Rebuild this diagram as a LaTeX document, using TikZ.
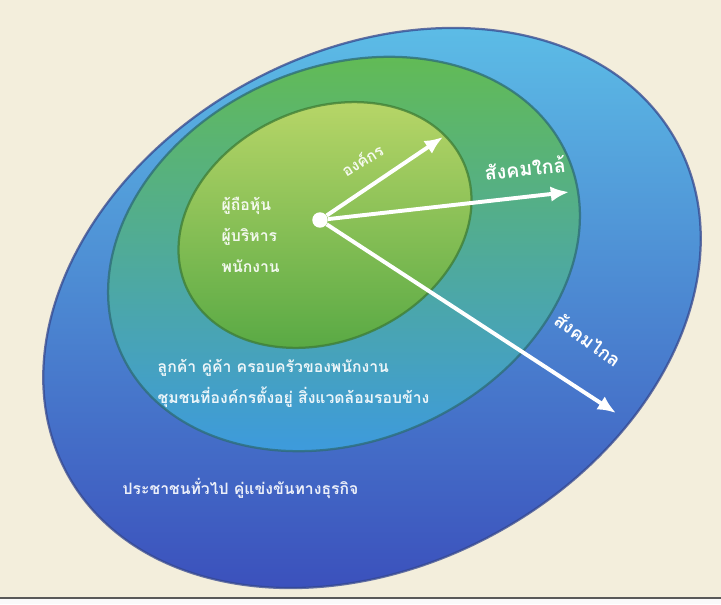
\documentclass[tikz,border=0pt]{standalone}
\usepackage{fontspec}
\newfontfamily\thaifont[Script=Thai]{Loma}
\usetikzlibrary{arrows.meta}
\definecolor{paper}{HTML}{F3EEDC}
\definecolor{outertop}{HTML}{5CBCE6}
\definecolor{outermid}{HTML}{427CD0}
\definecolor{outerbot}{HTML}{3B50BC}
\definecolor{midtop}{HTML}{62BB55}
\definecolor{midmid}{HTML}{3AAA9E}
\definecolor{midbot}{HTML}{3D9ADE}
\definecolor{innertop}{HTML}{B8D668}
\definecolor{innerbot}{HTML}{58A944}
\definecolor{outerrim}{HTML}{34478E}
\definecolor{midrim}{HTML}{2D6C74}
\definecolor{innerrim}{HTML}{3E7C34}
\begin{document}
\begin{tikzpicture}[
    x=0.025cm, y=-0.025cm,
    rim/.style={line width=1.6pt, opacity=0.75},
    every node/.style={text=white, inner sep=1pt},
    caption/.style={font=\thaifont\bfseries\fontsize{11.2}{22}\selectfont, align=left, text opacity=0.9},
    zone/.style={font=\thaifont\bfseries\fontsize{14}{16}\selectfont},
    ray/.style={draw=white, line width=2.8pt, -{Latex[length=13pt,width=11pt]}}
]
\useasboundingbox (0,0) rectangle (721,604);
\fill[paper] (0,0) rectangle (721,604);
\fill[white!96!gray] (0,599) rectangle (721,604);
\draw[gray!70!black, line width=0.9pt] (0,598) -- (721,598);

\begin{scope}
    \clip[rotate around={28.5:(372,308)}] (372,308) ellipse [x radius=347, y radius=257];
    \shade[top color=outertop, middle color=outermid, bottom color=outerbot] (20,28) rectangle (710,592);
\end{scope}
\draw[rim, outerrim, rotate around={28.5:(372,308)}] (372,308) ellipse [x radius=347, y radius=257];

\begin{scope}
    \clip[rotate around={23.5:(344,254)}] (344,254) ellipse [x radius=244, y radius=187];
    \shade[top color=midtop, middle color=midmid, bottom color=midbot] (100,55) rectangle (590,455);
\end{scope}
\draw[rim, midrim, rotate around={23.5:(344,254)}] (344,254) ellipse [x radius=244, y radius=187];

\begin{scope}
    \clip[rotate around={24.4:(325,225)}] (325,225) ellipse [x radius=152, y radius=116];
    \shade[top color=innertop, bottom color=innerbot] (170,98) rectangle (480,352);
\end{scope}
\draw[rim, innerrim, rotate around={24.4:(325,225)}] (325,225) ellipse [x radius=152, y radius=116];

\node[circle, fill=white, minimum size=11pt, inner sep=0pt] (hub) at (320,220) {};
\coordinate (orgtip) at (443,137);
\coordinate (neartip) at (569,192);
\coordinate (fartip) at (616,413);
\draw[ray] (hub) -- (orgtip);
\draw[ray] (hub) -- (neartip);
\draw[ray] (hub) -- (fartip);

\node[caption, anchor=west] (staff) at (220,235) {ผู้ถือหุ้น\\ผู้บริหาร\\พนักงาน};
\node[caption, rotate=32] (org) at (362,160) {องค์กร};
\node[zone, rotate=6] (near) at (525,168) {สังคมใกล้};
\node[zone, font=\thaifont\bfseries\fontsize{13}{15}\selectfont, rotate=-36] (far) at (588,340) {สังคมไกล};
\node[caption, anchor=west] (partners) at (156,383) {ลูกค้า คู่ค้า ครอบครัวของพนักงาน\\ชุมชนที่องค์กรตั้งอยู่ สิ่งแวดล้อมรอบข้าง};
\node[caption, anchor=west] (public) at (121,488) {ประชาชนทั่วไป คู่แข่งขันทางธุรกิจ};
\end{tikzpicture}
\end{document}
